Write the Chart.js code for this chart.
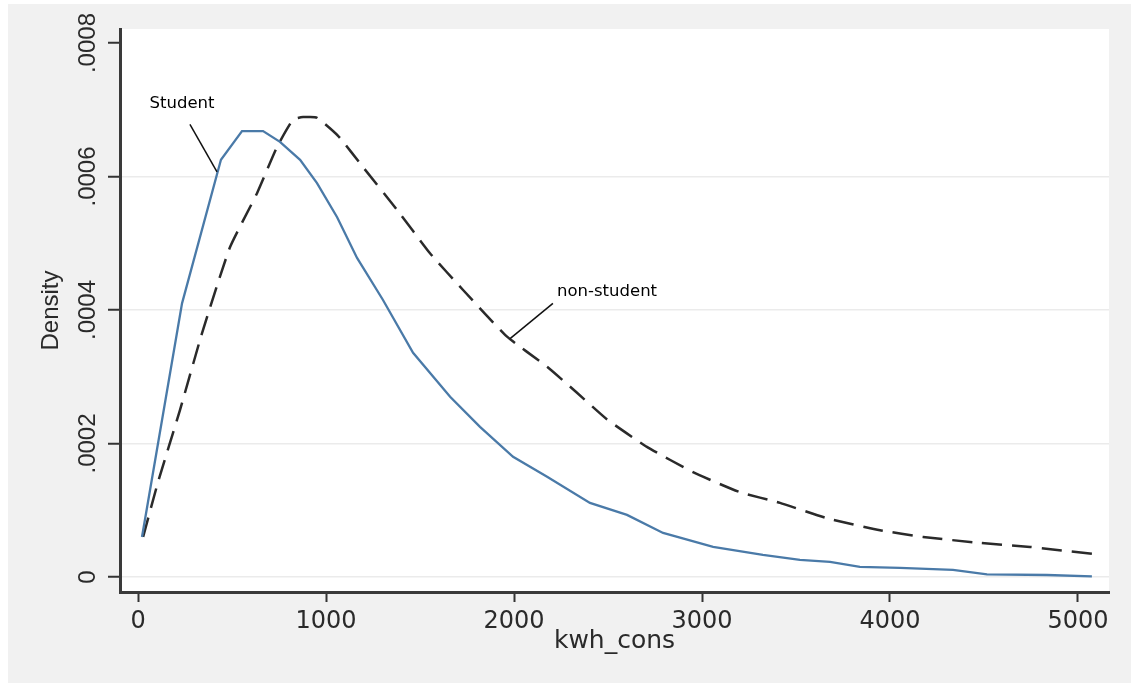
<!DOCTYPE html>
<html>
<head>
<meta charset="utf-8">
<script src="https://cdn.jsdelivr.net/npm/chart.js@4.4.0/dist/chart.umd.min.js"></script>
<style>
  body { margin: 0; background: #ffffff; }
  #wrap { width: 1131px; height: 683px; }
</style>
</head>
<body>
<div id="wrap"><canvas id="chart" width="1131" height="683"></canvas></div>
<script>
// kernel density, student households
const studentX = [21, 234, 441, 553, 665, 755, 862, 952, 1059, 1165, 1303, 1463, 1660, 1819, 1995,
  2176, 2404, 2601, 2793, 3059, 3324, 3521, 3681, 3840, 4053, 4335, 4516, 4835, 5074];
const studentY = [0.00006, 0.00041, 0.000625, 0.000668, 0.000668, 0.000652, 0.000625, 0.00059, 0.000539,
  0.000478, 0.000415, 0.000336, 0.00027, 0.000225, 0.00018, 0.00015, 0.000111, 0.000093, 0.000066,
  0.000045, 0.000033, 0.0000255, 0.0000225, 0.000015, 0.0000135, 0.0000105, 0.000004, 0.000003, 0.000001];

// kernel density, non-student households
const nonStudentX = [27, 106, 223, 340, 489, 633, 739, 824, 878, 952, 1064, 1197, 1378, 1553, 1729, 1963,
  2176, 2335, 2495, 2707, 2952, 3202, 3415, 3665, 3947, 4176, 4479, 4745, 5080];
const nonStudentY = [0.00006, 0.000142, 0.00025, 0.000365, 0.000494, 0.000575, 0.000644, 0.000685, 0.000689,
  0.000688, 0.000661, 0.000614, 0.00055, 0.000485, 0.00043, 0.00036, 0.000315, 0.000276, 0.000236,
  0.000195, 0.000157, 0.000127, 0.000111, 0.000088, 0.00007, 0.00006, 0.000051, 0.000045, 0.0000345];

const xTicks = [0, 1000, 2000, 3000, 4000, 5000];
const yTicks = [0, 0.0002, 0.0004, 0.0006, 0.0008];
const yTickLabels = ['0', '.0002', '.0004', '.0006', '.0008'];

// curve labels with their pointer lines (data coordinates)
const labels = [
  { text: 'Student', at: [234, 0.000709], from: [276, 0.000678], to: [420, 0.000607] },
  { text: 'non-student', at: [2495, 0.000427], from: [2207, 0.00041], to: [1979, 0.000357] }
];

function toPoints(xs, ys) {
  return xs.map(function(x, i) { return { x: x, y: ys[i] }; });
}

const backgroundPlugin = {
  id: 'stataBackground',
  beforeDraw: function(chart) {
    let ctx = chart.ctx;
    let area = chart.chartArea;
    ctx.save();
    ctx.fillStyle = '#ffffff';
    ctx.fillRect(0, 0, chart.width, chart.height);
    ctx.fillStyle = '#f1f1f1';
    ctx.fillRect(8, 4, chart.width - 8, chart.height - 4);
    ctx.fillStyle = '#ffffff';
    ctx.fillRect(area.left, area.top, area.right - area.left, area.bottom - area.top);
    ctx.restore();
  }
};

const labelPlugin = {
  id: 'curveLabels',
  afterDatasetsDraw: function(chart) {
    let ctx = chart.ctx;
    let xs = chart.scales.x;
    let ys = chart.scales.y;
    ctx.save();
    ctx.strokeStyle = '#111111';
    ctx.lineWidth = 1.5;
    ctx.fillStyle = '#000000';
    ctx.font = '16.5px "DejaVu Sans"';
    ctx.textAlign = 'center';
    ctx.textBaseline = 'middle';
    labels.forEach(function(l) {
      ctx.beginPath();
      ctx.moveTo(xs.getPixelForValue(l.from[0]), ys.getPixelForValue(l.from[1]));
      ctx.lineTo(xs.getPixelForValue(l.to[0]), ys.getPixelForValue(l.to[1]));
      ctx.stroke();
      ctx.fillText(l.text, xs.getPixelForValue(l.at[0]), ys.getPixelForValue(l.at[1]));
    });
    ctx.restore();
  }
};

new Chart(document.getElementById('chart'), {
  type: 'line',
  data: {
    datasets: [
      {
        label: 'Student',
        data: toPoints(studentX, studentY),
        borderColor: '#4a7aa8',
        borderWidth: 2.3,
        pointRadius: 0,
        tension: 0,
        fill: false
      },
      {
        label: 'non-student',
        data: toPoints(nonStudentX, nonStudentY),
        borderColor: '#2a2a2a',
        borderWidth: 2.5,
        borderDash: [20, 10],
        pointRadius: 0,
        tension: 0.15,
        fill: false
      }
    ]
  },
  options: {
    responsive: false,
    animation: false,
    layout: { padding: { top: 29, right: 22, bottom: 0, left: 0 } },
    plugins: {
      legend: { display: false },
      tooltip: { enabled: false }
    },
    scales: {
      x: {
        type: 'linear',
        min: -96,
        max: 5165,
        afterBuildTicks: function(scale) {
          scale.ticks = xTicks.map(function(v) { return { value: v }; });
        },
        afterFit: function(scale) { scale.height = 91; },
        border: { display: true, color: '#3a3a3a', width: 3 },
        grid: { drawOnChartArea: false, drawTicks: true, tickLength: 10, tickColor: '#333333', tickWidth: 2 },
        ticks: {
          color: '#2a2a2a',
          padding: 5,
          maxRotation: 0,
          font: { family: '"DejaVu Sans"', size: 24 },
          callback: function(value) { return String(value); }
        },
        title: {
          display: true,
          text: 'kwh_cons',
          color: '#2a2a2a',
          font: { family: '"DejaVu Sans"', size: 25 },
          padding: { top: 0, bottom: 27 }
        }
      },
      y: {
        type: 'linear',
        min: -0.0000225,
        max: 0.000821,
        afterBuildTicks: function(scale) {
          scale.ticks = yTicks.map(function(v) { return { value: v }; });
        },
        afterFit: function(scale) { scale.width = 120; },
        border: { display: true, color: '#3a3a3a', width: 3 },
        grid: {
          color: function(c) { return c.tick && c.tick.value === 0.0008 ? 'rgba(0,0,0,0)' : '#ebebeb'; },
          lineWidth: 1.5,
          drawTicks: true,
          tickLength: 12,
          tickColor: '#333333',
          tickWidth: 2
        },
        ticks: {
          color: '#2a2a2a',
          minRotation: 90,
          maxRotation: 90,
          crossAlign: 'center',
          padding: -10,
          font: { family: '"Liberation Sans"', size: 24 },
          callback: function(value, index) { return yTickLabels[index]; }
        },
        title: {
          display: true,
          text: 'Density',
          color: '#2a2a2a',
          font: { family: '"Liberation Sans"', size: 24 },
          padding: { top: 37, bottom: 0 }
        }
      }
    }
  },
  plugins: [backgroundPlugin, labelPlugin]
});
</script>
</body>
</html>
